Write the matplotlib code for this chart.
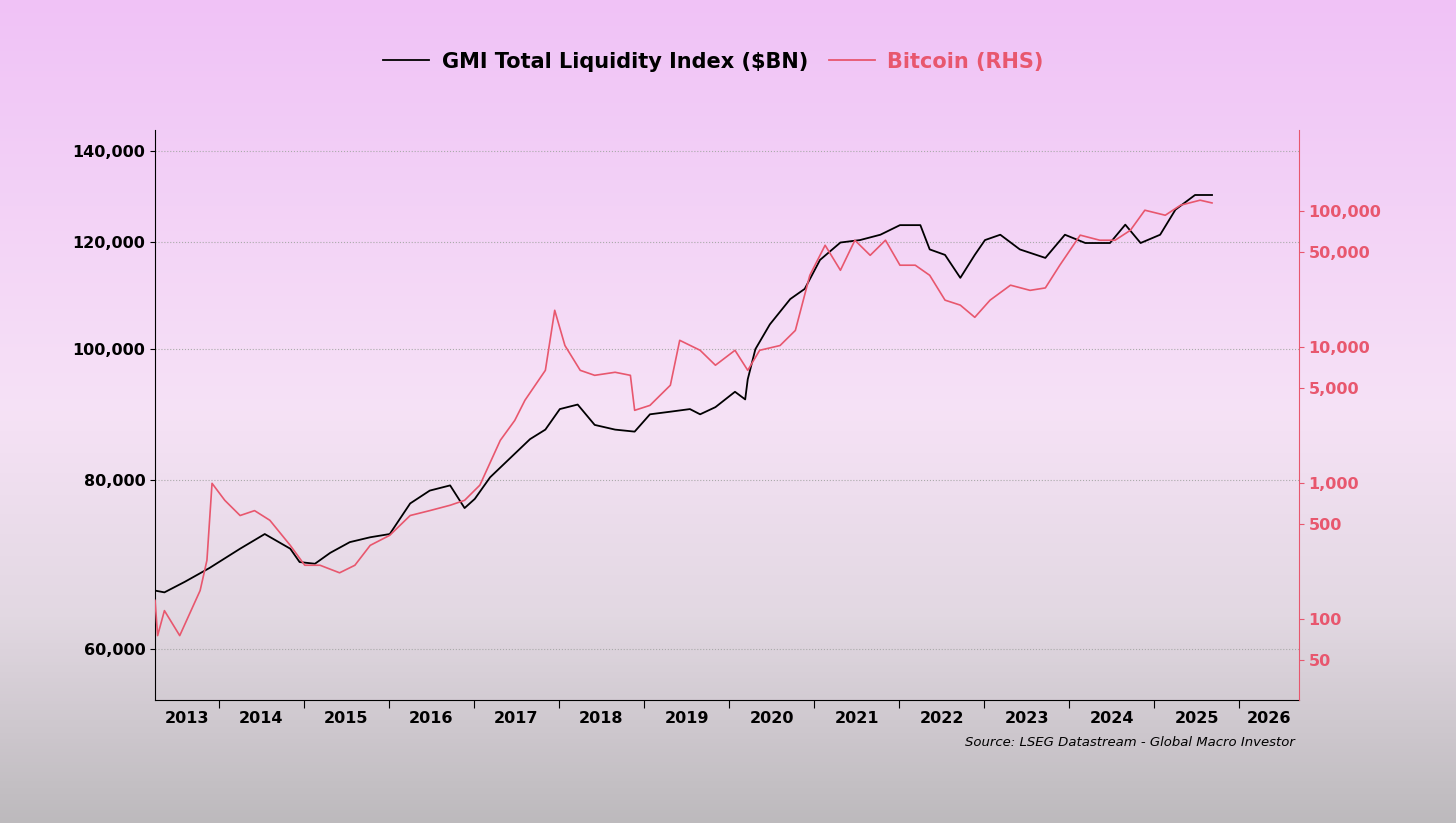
import matplotlib.pyplot as plt
import numpy as np
from matplotlib.colors import LinearSegmentedColormap
from matplotlib.ticker import FixedLocator, FuncFormatter

# GMI Total Liquidity Index ($BN), decimal years
gmi_t = [2013.25, 2013.36, 2013.6, 2013.89, 2014.25, 2014.54, 2014.84, 2014.95, 2015.13, 2015.31,
         2015.54, 2015.78, 2016.01, 2016.25, 2016.48, 2016.72, 2016.89, 2017.01, 2017.19, 2017.42,
         2017.66, 2017.84, 2018.01, 2018.22, 2018.42, 2018.66, 2018.89, 2019.07, 2019.31, 2019.54,
         2019.66, 2019.84, 2020.07, 2020.19, 2020.22, 2020.31, 2020.48, 2020.72, 2020.89, 2021.07,
         2021.31, 2021.54, 2021.78, 2022.01, 2022.25, 2022.36, 2022.54, 2022.72, 2022.89, 2023.01,
         2023.19, 2023.42, 2023.72, 2023.95, 2024.19, 2024.48, 2024.66, 2024.84, 2025.07, 2025.25,
         2025.48, 2025.68]
gmi_v = [66300, 66100, 67300, 68900, 71200, 73000, 71200, 69600, 69400, 70700,
         72000, 72600, 73000, 76900, 78600, 79300, 76300, 77500, 80400, 83000,
         85800, 87200, 90300, 91000, 87900, 87200, 86900, 89500, 89900, 90300,
         89500, 90600, 93000, 91800, 95000, 100000, 104300, 108900, 110800, 116400,
         119900, 120400, 121500, 123500, 123500, 118500, 117400, 112900, 117400, 120400,
         121500, 118500, 116800, 121500, 119800, 119800, 123600, 119800, 121500, 126800,
         130000, 130000]

# Bitcoin (RHS)
btc_t = [2013.25, 2013.28, 2013.36, 2013.54, 2013.78, 2013.86, 2013.92, 2014.07, 2014.25, 2014.42,
         2014.6, 2014.84, 2015.01, 2015.19, 2015.42, 2015.6, 2015.78, 2016.01, 2016.25, 2016.48,
         2016.72, 2016.89, 2017.07, 2017.31, 2017.48, 2017.6, 2017.84, 2017.95, 2018.07, 2018.25,
         2018.42, 2018.66, 2018.84, 2018.89, 2019.07, 2019.31, 2019.42, 2019.66, 2019.84, 2020.07,
         2020.22, 2020.36, 2020.6, 2020.78, 2020.95, 2021.13, 2021.31, 2021.48, 2021.66, 2021.84,
         2022.01, 2022.19, 2022.36, 2022.54, 2022.72, 2022.89, 2023.07, 2023.31, 2023.54, 2023.72,
         2023.89, 2024.13, 2024.36, 2024.54, 2024.72, 2024.89, 2025.13, 2025.31, 2025.54, 2025.68]
btc_v = [138, 76, 116, 76, 163, 272, 1000, 750, 580, 630,
         535, 350, 250, 250, 220, 250, 350, 415, 580, 630,
         690, 750, 970, 2070, 2900, 4080, 6770, 18700, 10300, 6770,
         6220, 6550, 6220, 3440, 3740, 5260, 11250, 9500, 7380, 9500,
         6770, 9500, 10300, 13300, 33800, 56200, 36800, 61200, 47400, 61200,
         40100, 40100, 33800, 22200, 20400, 16600, 22200, 28600, 26200, 27300,
         40100, 66700, 61200, 61200, 72400, 101700, 93400, 110700, 120500, 115000]

gmi_ticks = [60000, 80000, 100000, 120000, 140000]
btc_ticks = [50, 100, 500, 1000, 5000, 10000, 50000, 100000]
years = list(range(2013, 2027))
pink = '#e8576e'

fig = plt.figure(figsize=(14.56, 8.23), dpi=100)

# background gradient
bg = fig.add_axes([0, 0, 1, 1], zorder=-10)
cmap = LinearSegmentedColormap.from_list('bg', [(0, '#f0c2f6'), (0.5, '#f6e2f6'), (0.75, '#e2d8e2'), (1, '#bdbabd')])
bg.imshow(np.linspace(0, 1, 256).reshape(-1, 1), aspect='auto', cmap=cmap, extent=[0, 1, 0, 1])
bg.axis('off')

ax = fig.add_axes([0.1065, 0.149, 0.7855, 0.693])
ax.patch.set_alpha(0)
ax2 = ax.twinx()

ax.plot(gmi_t, gmi_v, color='black', lw=1.3, zorder=3)
ax2.plot(btc_t, btc_v, color=pink, lw=1.2)

ax.set_yscale('log')
ax.set_ylim(55000, 145200)
ax.yaxis.set_major_locator(FixedLocator(gmi_ticks))
ax.yaxis.set_minor_locator(FixedLocator([]))
ax.yaxis.set_major_formatter(FuncFormatter(lambda v, p: f'{v:,.0f}'))
ax.grid(axis='y', color='#aaaaaa', ls=':', lw=0.8)

ax2.set_yscale('log')
ax2.set_ylim(25.4, 395000)
ax2.yaxis.set_major_locator(FixedLocator(btc_ticks))
ax2.yaxis.set_minor_locator(FixedLocator([]))
ax2.yaxis.set_major_formatter(FuncFormatter(lambda v, p: f'{v:,.0f}'))
ax2.tick_params(axis='y', colors=pink, labelsize=11.5)
for lab in ax2.get_yticklabels():
    lab.set_fontweight('bold')

x0, x1 = 2013.25, 2026.7
ax.set_xlim(x0, x1)
ax.set_xticks(years[1:])
ax.set_xticklabels([])
mids = [(max(y, x0) + min(y + 1, x1)) / 2 for y in years]
ax.set_xticks(mids, minor=True)
ax.set_xticklabels([str(y) for y in years], minor=True, fontsize=11.5, fontweight='bold')
ax.tick_params(axis='x', which='minor', length=0, pad=8)
ax.tick_params(axis='x', which='major', length=6)
ax.tick_params(axis='y', labelsize=11.5)
for lab in ax.get_yticklabels():
    lab.set_fontweight('bold')

for a in (ax, ax2):
    a.spines['top'].set_visible(False)
ax2.spines['left'].set_visible(False)
ax2.spines['bottom'].set_visible(False)
ax2.spines['right'].set_color(pink)
ax.spines['right'].set_visible(False)

# legend
fig.legend(handles=[plt.Line2D([], [], color='black', lw=1.3), plt.Line2D([], [], color=pink, lw=1.3)],
           labels=['GMI Total Liquidity Index ($BN)', 'Bitcoin (RHS)'],
           loc='center', bbox_to_anchor=(0.49, 0.925), ncol=2, frameon=False,
           prop={'size': 15, 'weight': 'bold'}, handlelength=2.2, handletextpad=0.6, columnspacing=1.0)
leg = fig.legends[0]
leg.get_texts()[1].set_color(pink)

fig.text(0.889, 0.093, 'Source: LSEG Datastream - Global Macro Investor', ha='right',
         fontsize=9.5, style='italic')

fig.savefig('out.png', dpi=100)
